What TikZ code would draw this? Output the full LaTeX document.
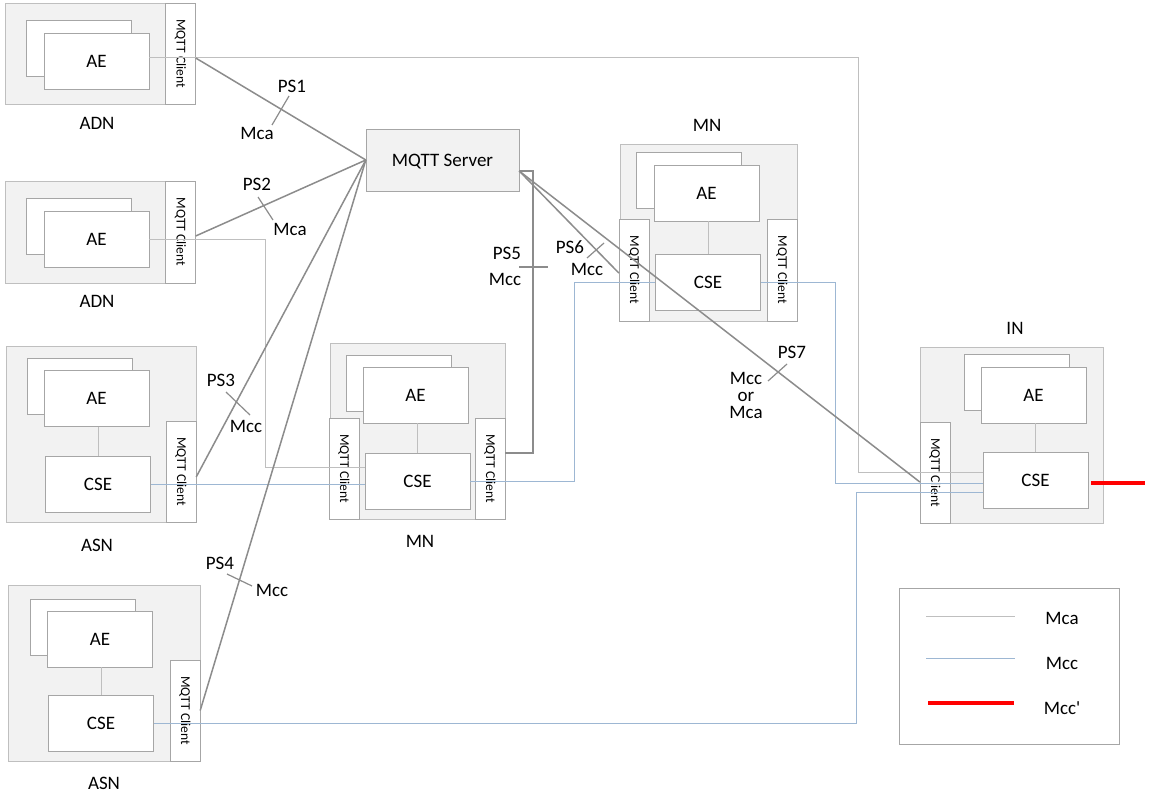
\documentclass[tikz,border=0pt]{standalone}
\usepackage{fontspec}
\setmainfont{Carlito}
\usepackage{tikz}
\definecolor{boxgray}{HTML}{BFBFBF}
\definecolor{fillgray}{HTML}{F2F2F2}
\definecolor{edgegray}{HTML}{A6A6A6}
\definecolor{psgray}{HTML}{8C8C8C}
\definecolor{mccblue}{HTML}{9DB7D3}
\newcommand{\mqttclt}{\rotatebox{-90}{MQTT Client}}

\begin{document}
\begin{tikzpicture}[
  x=1pt, y=-1pt,
  font=\fontsize{19}{21}\selectfont,
  devbox/.style={draw=boxgray, fill=fillgray, inner sep=0pt},
  cltbox/.style={draw=edgegray, fill=white, minimum width=30pt, minimum height=101pt, inner sep=0pt, font=\fontsize{13.5}{15}\selectfont},
  aebox/.style={draw=edgegray, fill=white, minimum width=105pt, minimum height=56pt, inner sep=0pt},
  mca/.style={draw=boxgray, line width=0.8pt},
  mcc/.style={draw=mccblue, line width=0.8pt},
  psline/.style={draw=psgray, line width=1.5pt},
  tick/.style={draw=psgray, line width=1.2pt},
  mccp/.style={draw=red, line width=4.5pt}
]
\fill[white] (0,0) rectangle (1150,797);
\useasboundingbox (0,0) rectangle (1150,797);

% ADN 1
\node[devbox, minimum width=190pt, minimum height=101pt] (a1) at (100,53.5) {};
\node[cltbox] (a1cl) at (180.5,53.5) {\mqttclt};
\node[aebox] (a1bk) at (79,48.5) {};
\node[aebox] (a1ae) at (96.5,61) {AE};
\node (a1lbl) at (97,123) {ADN};

% ADN 2
\node[devbox, minimum width=190pt, minimum height=102pt] (a2) at (100,232) {};
\node[cltbox, minimum height=102pt] (a2cl) at (180.5,232) {\mqttclt};
\node[aebox] (a2bk) at (79,226) {};
\node[aebox] (a2ae) at (96.5,239) {AE};
\node (a2lbl) at (97,301) {ADN};

% ASN 1
\node[devbox, minimum width=190pt, minimum height=176pt] (s1) at (101,434) {};
\node[cltbox] (s1cl) at (181,471.5) {\mqttclt};
\node[aebox] (s1bk) at (79.5,386) {};
\node[aebox] (s1ae) at (96.5,398.5) {AE};
\node[aebox] (s1cse) at (98,484) {CSE};
\node (s1lbl) at (97,545) {ASN};

% ASN 2
\node[devbox, minimum width=192pt, minimum height=176pt] (s2) at (104,673) {};
\node[cltbox] (s2cl) at (185,710.5) {\mqttclt};
\node[aebox] (s2bk) at (82.5,627) {};
\node[aebox] (s2ae) at (100,639) {AE};
\node[aebox] (s2cse) at (101,723) {CSE};
\node (s2lbl) at (104,783) {ASN};

% MN (bottom)
\node[devbox, minimum width=175pt, minimum height=176pt] (m1) at (417.5,431) {};
\node[cltbox] (m1lcl) at (344,468.5) {\mqttclt};
\node[cltbox] (m1rcl) at (490,468.5) {\mqttclt};
\node[aebox] (m1bk) at (399,383) {};
\node[aebox] (m1ae) at (415.5,395) {AE};
\node[aebox] (m1cse) at (417.5,481.5) {CSE};
\node (m1lbl) at (420,541) {MN};

% MN (top)
\node[devbox, minimum width=177pt, minimum height=177pt] (m2) at (708.5,232.5) {};
\node[cltbox, minimum height=102pt] (m2lcl) at (634,270) {\mqttclt};
\node[cltbox, minimum height=102pt] (m2rcl) at (782,270) {\mqttclt};
\node[aebox] (m2bk) at (688.5,180) {};
\node[aebox] (m2ae) at (706.5,193) {AE};
\node[aebox] (m2cse) at (708,282) {CSE};
\node (m2lbl) at (707,125) {MN};

% IN
\node[devbox, minimum width=183pt, minimum height=176pt] (in) at (1011.5,435) {};
\node[cltbox] (inlcl) at (935,472.5) {\mqttclt};
\node[aebox] (inbk) at (1016.5,382) {};
\node[aebox] (inae) at (1033.5,395) {AE};
\node[aebox] (incse) at (1035.5,480) {CSE};
\node (inlbl) at (1015,328) {IN};

% MQTT server
\node[devbox, draw=edgegray, text depth=0pt, minimum width=153pt, minimum height=62pt] (srv) at (442.5,160) {MQTT Server};

% AE - CSE
\foreach \n in {s1,s2,m1,m2,in}
  \draw[mca] (\n cse.north) -- (\n cse.north |- \n ae.south);

% Mca
\draw[mca] ([yshift=4pt]a1ae.east) -| (858,472) -- ([yshift=8pt]incse.west);
\draw[mca] (a2ae.east) -| (265,467) -- ([yshift=14.5pt]m1cse.west);

% Mcc
\draw[mcc] (s1cse.east) -- (s1cse.east -| m1cse.west);
\draw[mcc] (m1cse.east) -| (574,282) -- (m2cse.west);
\draw[mcc] (m2cse.east) -| (835,483) -- ([yshift=-3pt]incse.west);
\draw[mcc] (s2cse.east) -| (856,492) -- ([yshift=-12pt]incse.west);

% MQTT sessions
\draw[psline] ([yshift=-4.5pt]a1cl.east) -- (srv.west);
\draw[psline] ([yshift=-4pt]a2cl.east) -- (srv.west);
\draw[psline] ([yshift=-5.5pt]s1cl.east) -- (srv.west);
\draw[psline] (s2cl.east) -- (srv.west);
\draw[psline] ([yshift=15.5pt]m1rcl.east) -| (533,171) -- ([yshift=-11pt]srv.east);
\draw[psline] ([yshift=-11pt]srv.east) -- ([yshift=-3pt]m2lcl.west);
\draw[psline] ([yshift=-11pt]srv.east) -- ([yshift=-9.5pt]inlcl.west);

% Mcc'
\coordinate (mccend) at (1145,483);
\draw[mccp] ([xshift=3pt]incse.east |- mccend) -- (mccend);

% ticks and labels
\draw[tick] (272,125) -- (289,96);
\node (ps1) at (292,86) {PS1};
\node (ps1if) at (257,133) {Mca};
\draw[tick] (258,197) -- (273,220);
\node (ps2) at (257,184) {PS2};
\node (ps2if) at (290,229) {Mca};
\draw[tick] (226,392) -- (250,415);
\node (ps3) at (221,380) {PS3};
\node (ps3if) at (246,426) {Mcc};
\draw[tick] (227,574) -- (252,586);
\node (ps4) at (220,563) {PS4};
\node (ps4if) at (272,590) {Mcc};
\draw[tick] (519,267) -- (548,267);
\node (ps5) at (507,253) {PS5};
\node (ps5if) at (505,279) {Mcc};
\draw[tick] (587,258) -- (604,243);
\node (ps6) at (570,247) {PS6};
\node (ps6if) at (587,269) {Mcc};
\draw[tick] (768,381) -- (787,364);
\node (ps7) at (792,352) {PS7};
\node[align=center, font=\fontsize{19}{17}\selectfont] (ps7if) at (746,395) {Mcc\\or\\Mca};

% legend
\node[draw=edgegray, minimum width=220pt, minimum height=156pt, inner sep=0pt] (lgd) at (1009,666) {};
\draw[mca] (926,616) -- (1015,616);
\node (lgmca) at (1062,618) {Mca};
\draw[mcc] (926,658) -- (1015,658);
\node (lgmcc) at (1062,663) {Mcc};
\draw[mccp] (928,703) -- (1014,703);
\node (lgmccp) at (1062,708) {Mcc\textquotesingle};
\end{tikzpicture}
\end{document}
